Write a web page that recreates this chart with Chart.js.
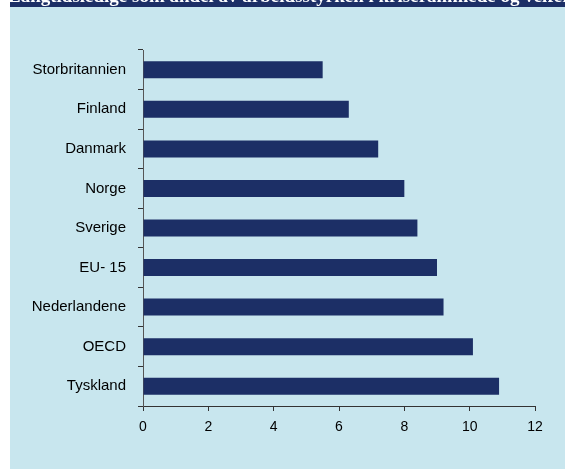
<!DOCTYPE html>
<html>
<head>
<meta charset="utf-8">
<script src="https://cdn.jsdelivr.net/npm/chart.js@4/dist/chart.umd.min.js"></script>
<style>
html,body{margin:0;padding:0;background:#fff;}
#wrap{position:relative;width:565px;height:469px;}
</style>
</head>
<body>
<div id="wrap"><canvas id="c" width="565" height="469"></canvas></div>
<script>
const categories = ["Storbritannien","Finland","Danmark","Norge","Sverige","EU- 15","Nederlandene","OECD","Tyskland"];
const values = [5.5, 6.3, 7.2, 8.0, 8.4, 9.0, 9.2, 10.1, 10.9];
const xTicks = [0, 2, 4, 6, 8, 10, 12];
const titleText = "Langtidsledige som andel av arbeidsstyrken i kriserammede og velferdsbygde land 2000, pct";

const bgPlugin = {
  id: 'bg',
  beforeDraw(chart) {
    const ctx = chart.ctx;
    ctx.save();
    ctx.fillStyle = '#ffffff';
    ctx.fillRect(0, 0, 565, 469);
    ctx.fillStyle = '#C8E6EE';
    ctx.fillRect(10, 0, 555, 469);
    ctx.fillStyle = '#1C2F66';
    ctx.fillRect(10, 0, 555, 7);
    ctx.beginPath();
    ctx.rect(10, 0, 555, 7);
    ctx.clip();
    ctx.fillStyle = '#ffffff';
    ctx.font = 'bold 19px "Liberation Serif", serif';
    ctx.textBaseline = 'alphabetic';
    ctx.fillText(titleText, 8, 2);
    ctx.restore();
  }
};

new Chart(document.getElementById('c'), {
  type: 'bar',
  data: {
    labels: categories,
    datasets: [{
      data: values,
      backgroundColor: '#1C2F66',
      borderWidth: 0,
      barPercentage: 0.43,
      categoryPercentage: 1.0
    }]
  },
  options: {
    indexAxis: 'y',
    responsive: false,
    animation: false,
    devicePixelRatio: 1,
    layout: { padding: { top: 50, right: 30, left: 0, bottom: 0 } },
    plugins: { legend: { display: false }, tooltip: { enabled: false } },
    scales: {
      x: {
        min: 0, max: 12,
        afterBuildTicks(scale) { scale.ticks = xTicks.map(v => ({ value: v })); },
        afterFit(scale) { scale.height = 63; },
        border: { display: true, color: '#333', width: 1 },
        grid: { display: true, drawOnChartArea: false, drawTicks: true, tickLength: 5, color: '#333' },
        ticks: { color: '#000', font: { family: '"Liberation Sans", Arial, sans-serif', size: 14 }, padding: 8, maxRotation: 0 }
      },
      y: {
        afterFit(scale) { scale.width = 143; },
        border: { display: true, color: '#555', width: 1 },
        grid: { display: true, offset: true, drawOnChartArea: false, drawTicks: true, tickLength: 5, color: '#333' },
        ticks: { color: '#000', font: { family: '"Liberation Sans", Arial, sans-serif', size: 15 }, padding: 12 }
      }
    }
  },
  plugins: [bgPlugin]
});
</script>
</body>
</html>
